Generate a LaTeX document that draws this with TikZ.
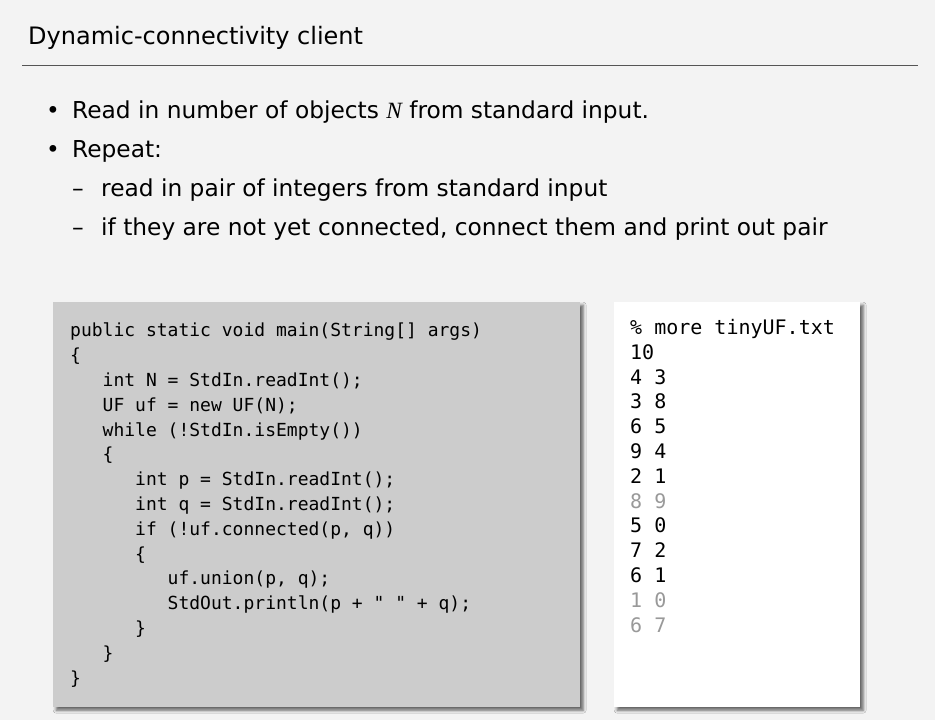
\documentclass[tikz,border=0pt]{standalone}
\usepackage{fontspec}
\setmainfont{DejaVu Sans}
\setmonofont{DejaVu Sans Mono}
\newfontfamily\varfont{Liberation Serif}
\usetikzlibrary{shadows.blur}
\definecolor{slidebg}{HTML}{F3F3F3}
\definecolor{codegray}{HTML}{CCCCCC}
\definecolor{datagray}{HTML}{999999}
\definecolor{rulegray}{HTML}{555555}

\begin{document}
\begin{tikzpicture}[x=1pt,y=-1pt,
  slidetext/.style={anchor=base west,inner sep=0pt,font=\fontsize{23.3}{28}\selectfont},
  boxshade/.style={blur shadow={shadow xshift=3pt,shadow yshift=-3pt,shadow blur radius=3pt,shadow opacity=60}},
  codebox/.style={boxshade,fill=codegray,anchor=north west,inner sep=0pt,minimum width=527pt,minimum height=405pt},
  databox/.style={boxshade,fill=white,anchor=north west,inner sep=0pt,minimum width=246pt,minimum height=405pt},
  listing/.style={anchor=north west,inner sep=0pt,align=left,font=\ttfamily\fontsize{18}{24.8}\selectfont}]
				\fill[slidebg] (0,0) rectangle (935,720);
				\useasboundingbox (0,0) rectangle (935,720);
				% title and rule
				\node[slidetext,font=\fontsize{24}{30}\selectfont] (title) at (28,44) {Dynamic-connectivity client};
				\coordinate (rl) at (22,65);
				\coordinate (rr) at (918,65);
				\draw[rulegray,line width=1pt] (rl) -- (rr);
				% bullets
				\node[slidetext] (d1) at (46,118) {\textbullet};
				\node[slidetext] (b1) at (72,118) {Read in number of objects {\varfont\itshape N} from standard input.};
				\node[slidetext] (d2) at (46,157) {\textbullet};
				\node[slidetext] (b2) at (72,157) {Repeat:};
				\node[slidetext] (d3) at (72,196) {--};
				\node[slidetext] (b3) at (101,196) {read in pair of integers from standard input};
				\node[slidetext] (d4) at (72,235) {--};
				\node[slidetext] (b4) at (101,235) {if they are not yet connected, connect them and print out pair};
				% client code
				\node[codebox] (code) at (53,302) {};
				\node[listing] (src) at (70,323) {public static void main(String[] args)\\
\{\\
\phantom{xxx}int N = StdIn.readInt();\\
\phantom{xxx}UF uf = new UF(N);\\
\phantom{xxx}while (!StdIn.isEmpty())\\
\phantom{xxx}\{\\
\phantom{xxxxxx}int p = StdIn.readInt();\\
\phantom{xxxxxx}int q = StdIn.readInt();\\
\phantom{xxxxxx}if (!uf.connected(p, q))\\
\phantom{xxxxxx}\{\\
\phantom{xxxxxxxxx}uf.union(p, q);\\
\phantom{xxxxxxxxx}StdOut.println(p + " " + q);\\
\phantom{xxxxxx}\}\\
\phantom{xxx}\}\\
\}};
				% input file
				\node[databox] (data) at (614,302) {};
				\node[listing,font=\ttfamily\fontsize{20}{24.8}\selectfont] (input) at (630,319) {\% more tinyUF.txt\\
10\\
4 3\\
3 8\\
6 5\\
9 4\\
2 1\\
\textcolor{datagray}{8 9}\\
5 0\\
7 2\\
6 1\\
\textcolor{datagray}{1 0}\\
\textcolor{datagray}{6 7}};
			\end{tikzpicture}
\end{document}
